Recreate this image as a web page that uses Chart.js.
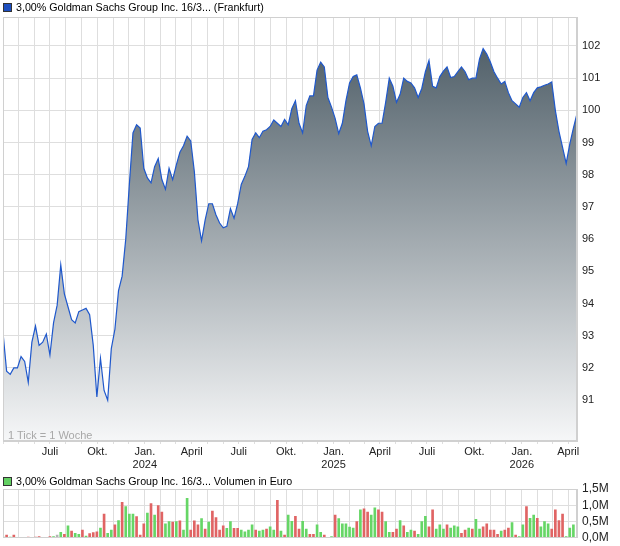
<!DOCTYPE html>
<html><head><meta charset="utf-8">
<script src="https://cdn.jsdelivr.net/npm/chart.js@4.4.0/dist/chart.umd.min.js"></script>
<style>
body{margin:0;background:#fff;width:620px;height:546px;overflow:hidden;font-family:"Liberation Sans",Arial,sans-serif;position:relative}
#p{position:absolute;left:0;top:0;}
#v{position:absolute;left:0;top:470px;}
.leg{position:absolute;left:3px;font-size:10.7px;color:#000;white-space:nowrap;line-height:12px}
.box{display:inline-block;width:7px;height:7px;border:1px solid #333;margin-right:4px;vertical-align:-1px}
.note{position:absolute;left:8px;top:429px;font-size:11px;color:#a8a8a8;line-height:12px}
</style></head><body>
<canvas id="p" width="620" height="470"></canvas>
<canvas id="v" width="620" height="80"></canvas>
<div class="leg" style="top:1px"><span class="box" style="background:#1d4fbf"></span>3,00% Goldman Sachs Group Inc. 16/3... (Frankfurt)</div>
<div class="leg" style="top:475px"><span class="box" style="background:#62d062"></span>3,00% Goldman Sachs Group Inc. 16/3... Volumen in Euro</div>
<div class="note">1 Tick = 1 Woche</div>
<script>
// weekly closing prices, first week starting 2023-04-01
const priceValues = [
 93.1, 91.9, 91.8, 92.0, 92.0, 92.35, 92.2, 91.55, 92.8, 93.3,
 92.7, 92.8, 93.05, 92.4, 93.4, 93.95, 95.2, 94.3, 93.9, 93.5,
 93.4, 93.75, 93.8, 93.85, 93.65, 92.7, 91.1, 92.3, 91.3, 91.0,
 92.6, 93.2, 94.4, 94.85, 96.0, 97.7, 99.3, 99.55, 99.45, 98.2,
 97.9, 97.75, 98.25, 98.5, 97.85, 97.55, 98.2, 97.85, 98.3, 98.7,
 98.9, 99.2, 99.05, 98.1, 96.6, 95.95, 96.6, 97.1, 97.1, 96.75,
 96.5, 96.35, 96.4, 96.95, 96.65, 97.1, 97.7, 97.95, 98.25, 99.1,
 99.3, 99.15, 99.35, 99.4, 99.5, 99.7, 99.6, 99.5, 99.72, 99.55,
 100.05, 100.3, 99.6, 99.3, 100.15, 100.45, 100.45, 101.25, 101.5, 101.35,
 100.4, 100.1, 99.75, 99.28, 99.6, 100.3, 100.85, 101.05, 101.1, 100.7,
 100.2, 99.35, 98.9, 99.5, 99.6, 99.6, 100.25, 101.0, 100.75, 100.25,
 100.5, 101.0, 100.9, 100.85, 100.7, 100.4, 100.68, 101.2, 101.55, 100.75,
 100.7, 101.05, 101.22, 101.35, 101.02, 101.05, 101.2, 101.35, 101.2, 100.95,
 101.0, 101.0, 101.6, 101.92, 101.75, 101.5, 101.2, 101.0, 100.82, 100.9,
 100.55, 100.3, 100.2, 100.1, 100.4, 100.55, 100.3, 100.55, 100.7, 100.73,
 100.78, 100.82, 100.88, 100.0, 99.35, 98.85, 98.35, 98.95, 99.45, 99.9
];
// weekly volume in million euro
const volumeValues = [
 0.03,0.08,0.02,0.08,0.01,0,0,0.02,0,0.02,
 0.04,0,0,0.04,0.04,0.08,0.17,0.11,0.37,0.21,
 0.14,0.11,0.24,0.05,0.13,0.16,0.18,0.30,0.73,0.14,
 0.24,0.40,0.53,1.09,0.96,0.73,0.73,0.65,0.08,0.43,
 0.76,1.05,0.70,0.99,0.79,0.43,0.50,0.48,0.50,0.52,
 0.24,1.21,0.24,0.52,0.40,0.59,0.27,0.48,0.82,0.62,
 0.24,0.37,0.29,0.50,0.29,0.29,0.24,0.18,0.24,0.40,
 0.24,0.21,0.24,0.27,0.34,0.24,1.15,0.21,0.08,0.70,
 0.51,0.66,0.27,0.51,0.27,0.11,0.11,0.40,0.17,0.08,
 0,0.04,0.70,0.59,0.43,0.43,0.33,0.30,0.50,0.86,
 0.89,0.79,0.70,0.92,0.86,0.79,0.50,0.17,0.17,0.27,
 0.53,0.37,0.17,0.24,0.21,0.11,0.50,0.66,0.34,0.86,
 0.27,0.40,0.27,0.40,0.30,0.37,0.34,0.14,0.24,0.30,
 0.27,0.57,0.27,0.34,0.43,0.24,0.24,0.11,0.21,0.24,
 0.30,0.47,0.08,0.04,0.40,0.96,0.60,0.70,0.60,0.34,
 0.50,0.43,0.27,0.86,0.53,0.73,0.04,0.30,0.40
];
// u = up week, d = down week, n = unchanged
const volumeTrend = [
 'u','d','u','d','u','u','u','d','u','d',
 'd','u','u','d','u','n','u','d','u','d',
 'u','u','d','u','d','d','d','u','d','u',
 'u','d','u','d','u','u','u','d','d','d',
 'u','d','u','d','d','u','u','d','u','d',
 'u','u','d','d','d','u','d','u','d','d',
 'd','d','u','u','d','d','u','u','u','u',
 'd','u','u','d','u','u','d','u','d','u',
 'u','d','d','u','u','d','d','u','u','d',
 'u','u','d','u','u','u','u','u','d','u',
 'd','d','u','u','d','d','u','u','d','d',
 'u','d','u','u','d','u','u','u','d','d',
 'u','u','u','d','u','u','u','d','d','u',
 'd','u','u','d','d','d','d','d','u','d',
 'd','u','d','u','u','d','u','u','d','u',
 'u','u','d','d','d','d','u','u','u'
];
const priceTicks = [91,92,93,94,95,96,97,98,99,100,101,102];
const volumeTicks = [0,0.5,1.0,1.5];
const monthNames = ['Jan.','Feb.','März','April','Mai','Juni','Juli','Aug.','Sep.','Okt.','Nov.','Dez.'];

const startUTC = Date.UTC(2023,3,1);
const weekMs = 7*86400000;
const lastWeek = priceValues.length - 1;
const monthTicks = [];
for (let y=2023; y<=2026; y++) for (let m=0; m<12; m++) {
  const w = (Date.UTC(y,m,1) - startUTC) / weekMs;
  if (w >= 0 && w <= lastWeek) monthTicks.push({value:w, y:y, m:m});
}
function monthLabel(t){
  if (!t || t.value === 0) return '';
  if (t.m === 0) return ['Jan.', String(t.y)];
  if (t.m === 3 || t.m === 6 || t.m === 9) return monthNames[t.m];
  return '';
}
const gridColor = '#dedede';
const borderPlugin = {
  id:'frame',
  afterDraw(chart){
    const a = chart.chartArea, c = chart.ctx;
    c.save(); c.strokeStyle = '#d0d0d0'; c.lineWidth = 1;
    c.strokeRect(Math.round(a.left)+0.5, Math.round(a.top)+0.5, Math.round(a.width)-1, Math.round(a.height)-1);
    c.restore();
  }
};
Chart.defaults.font.family = '"Liberation Sans", Arial, sans-serif';

new Chart(document.getElementById('p'), {
  type:'line',
  data:{ datasets:[{
    data: priceValues.map((v,i)=>({x:i, y:v})),
    borderColor:'#1f58cc', borderWidth:1.2, pointRadius:0, tension:0,
    fill:'start',
    backgroundColor:(c)=>{
      const a = c.chart.chartArea; if(!a) return 'rgba(0,0,0,0)';
      const g = c.chart.ctx.createLinearGradient(0,a.top,0,a.bottom);
      g.addColorStop(0,'#45555f'); g.addColorStop(1,'#f6f7f8'); return g;
    }
  }]},
  options:{
    responsive:false, animation:false, events:[],
    layout:{padding:{top:17,left:3,right:0,bottom:0}},
    plugins:{legend:{display:false}, tooltip:{enabled:false}},
    scales:{
      x:{ type:'linear', min:0, max:lastWeek,
        afterBuildTicks:(s)=>{ s.ticks = monthTicks.map(t=>({value:t.value})); },
        afterFit:(s)=>{ s.height = 29; },
        grid:{color:gridColor, tickLength:3, drawTicks:true},
        border:{color:'#d0d0d0'},
        ticks:{autoSkip:false, maxRotation:0, padding:1, color:'#222', font:{size:11},
          callback:(v,i)=>monthLabel(monthTicks[i])}
      },
      y:{ type:'linear', position:'right', min:89.73, max:102.9,
        afterBuildTicks:(s)=>{ s.ticks = priceTicks.map(v=>({value:v})); },
        afterFit:(s)=>{ s.width = 43; },
        grid:{color:gridColor, drawTicks:false},
        border:{color:'#d0d0d0'},
        ticks:{padding:5, color:'#222', font:{size:11}, callback:(v)=>String(v)}
      }
    }
  },
  plugins:[borderPlugin]
});

const trendColor = {u:'#66d666', d:'#e06464', n:'#b4b4b4'};
new Chart(document.getElementById('v'), {
  type:'bar',
  data:{ datasets:[{
    data: volumeValues.map((v,i)=>({x:i, y:v})),
    backgroundColor: volumeTrend.map(t=>trendColor[t]),
    barThickness:2
  }]},
  options:{
    responsive:false, animation:false, events:[],
    layout:{padding:{top:19,left:3,right:0,bottom:0}},
    plugins:{legend:{display:false}, tooltip:{enabled:false}},
    scales:{
      x:{ type:'linear', min:0, max:lastWeek, offset:false,
        afterBuildTicks:(s)=>{ s.ticks = monthTicks.map(t=>({value:t.value})); },
        afterFit:(s)=>{ s.height = 5; },
        grid:{color:gridColor, drawTicks:false, offset:false},
        border:{color:'#d0d0d0'},
        ticks:{display:false}
      },
      y:{ type:'linear', position:'right', min:0, max:1.5,
        afterBuildTicks:(s)=>{ s.ticks = volumeTicks.map(v=>({value:v})); },
        afterFit:(s)=>{ s.width = 43; },
        grid:{color:gridColor, drawTicks:false},
        border:{color:'#d0d0d0'},
        ticks:{padding:5, color:'#222', font:{size:12},
          callback:(v)=>v.toFixed(1).replace('.',',')+'M'}
      }
    }
  },
  plugins:[borderPlugin]
});
</script>
</body></html>
